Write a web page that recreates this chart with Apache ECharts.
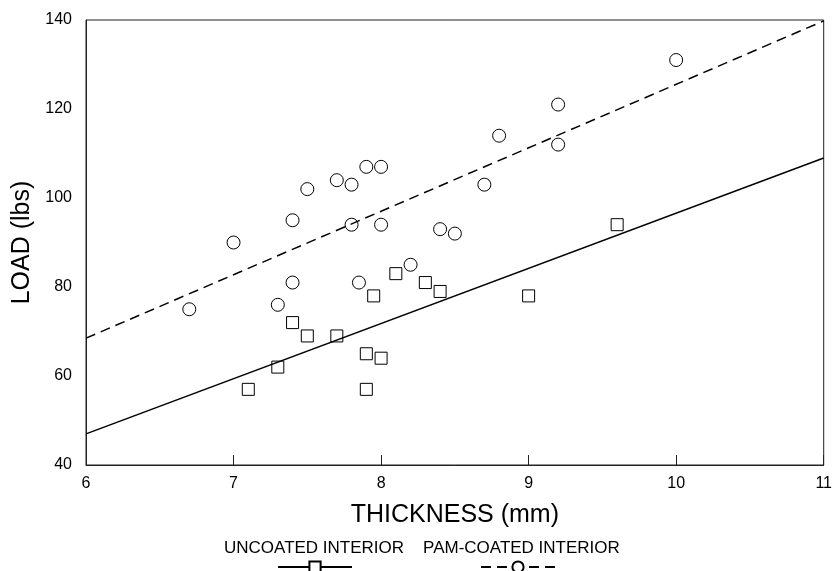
<!DOCTYPE html>
<html>
<head>
<meta charset="utf-8">
<script src="https://cdn.jsdelivr.net/npm/echarts@6/dist/echarts.min.js"></script>
<style>
html,body{margin:0;padding:0;background:#fff;}
#chart{width:835px;height:571px;}
</style>
</head>
<body>
<div id="chart"></div>
<script>
// Uncoated interior (squares): [thickness mm, load lbs]
const uncoatedPoints = [
  [7.1, 57], [7.3, 62], [7.4, 72], [7.5, 69], [7.7, 69], [7.9, 65], [7.9, 57],
  [7.95, 78], [8.0, 64], [8.1, 83], [8.3, 81], [8.4, 79], [9.0, 78], [9.6, 94]
];
// PAM-coated interior (circles)
const coatedPoints = [
  [6.7, 75], [7.0, 90], [7.3, 76], [7.4, 81], [7.4, 95], [7.5, 102], [7.7, 104],
  [7.8, 103], [7.8, 94], [7.85, 81], [7.9, 107], [8.0, 107], [8.0, 94], [8.2, 85],
  [8.4, 93], [8.5, 92], [8.7, 103], [8.8, 114], [9.2, 121], [9.2, 112], [10.0, 131]
];
// Fitted lines (end points)
const uncoatedFit = [[6, 47], [11, 109]];
const coatedFit = [[6, 68.5], [11, 139.8]];
const seriesNames = ['UNCOATED INTERIOR', 'PAM-COATED INTERIOR'];
const xTitle = 'THICKNESS (mm)';
const yTitle = 'LOAD (lbs)';

const FONT = 'Liberation Sans, Arial, Helvetica, sans-serif';
const chart = echarts.init(document.getElementById('chart'));
chart.setOption({
  backgroundColor: '#fff',
  animation: false,
  textStyle: { fontFamily: FONT, color: '#000' },
  grid: { left: 86, right: 9, top: 20, bottom: 106, show: true, borderColor: '#222', borderWidth: 1 },
  xAxis: {
    type: 'value', min: 6, max: 11, interval: 1,
    name: xTitle, nameLocation: 'middle', nameGap: 38,
    nameTextStyle: { fontSize: 25, color: '#000', fontFamily: FONT },
    axisLine: { lineStyle: { color: '#222', width: 1 } },
    axisTick: { show: true, inside: true, length: 10, lineStyle: { color: '#222' } },
    axisLabel: { fontSize: 16, color: '#000', margin: 11, fontFamily: FONT },
    splitLine: { show: false }
  },
  yAxis: {
    type: 'value', min: 40, max: 140, interval: 20,
    name: yTitle, nameLocation: 'middle', nameGap: 51,
    nameTextStyle: { fontSize: 25, color: '#000', fontFamily: FONT },
    axisLine: { show: true, lineStyle: { color: '#222', width: 1 } },
    axisTick: { show: false },
    axisLabel: { fontSize: 16, color: '#000', margin: 14, fontFamily: FONT },
    splitLine: { show: false }
  },
  legend: [
    {
      data: seriesNames, left: 218, top: 540, padding: 0, itemGap: 13,
      itemWidth: 0, itemHeight: 0, selectedMode: false,
      textStyle: { fontSize: 17, color: '#000', fontFamily: FONT }
    },
    {
      data: seriesNames, left: 277, top: 560, padding: 0, itemGap: 127,
      itemWidth: 74, itemHeight: 14, selectedMode: false,
      formatter: function () { return ''; },
      textStyle: { fontSize: 1 }
    }
  ],
  series: [
    {
      name: seriesNames[0], type: 'line', data: uncoatedFit,
      symbol: 'rect', showSymbol: false, silent: true,
      lineStyle: { color: '#000', width: 1.5, type: 'solid' },
      itemStyle: { color: '#fff', borderColor: '#000', borderWidth: 1 }
    },
    {
      name: seriesNames[1], type: 'line', data: coatedFit,
      symbol: 'circle', showSymbol: false, silent: true,
      lineStyle: { color: '#000', width: 1.5, type: [10, 6] },
      itemStyle: { color: '#fff', borderColor: '#000', borderWidth: 1 }
    },
    {
      name: seriesNames[0], type: 'scatter', data: uncoatedPoints,
      symbol: 'rect', symbolSize: 12,
      itemStyle: { color: '#fff', borderColor: '#000', borderWidth: 1, opacity: 1 }
    },
    {
      name: seriesNames[1], type: 'scatter', data: coatedPoints,
      symbol: 'circle', symbolSize: 13,
      itemStyle: { color: '#fff', borderColor: '#000', borderWidth: 1, opacity: 1 }
    }
  ]
});
</script>
</body>
</html>
